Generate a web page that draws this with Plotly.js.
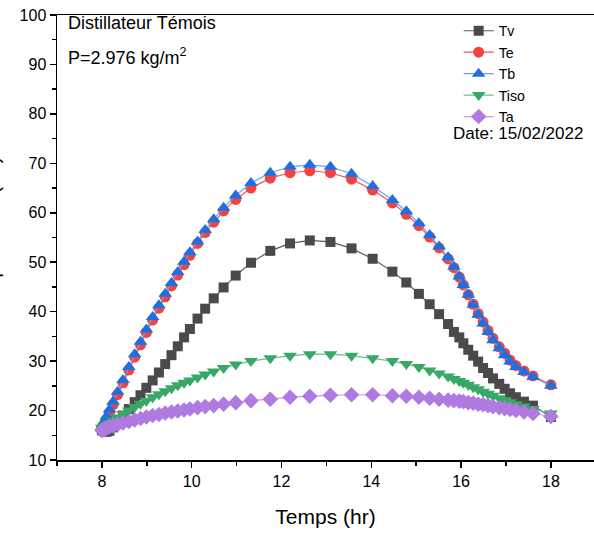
<!DOCTYPE html>
<html>
<head>
<meta charset="utf-8">
<script src="https://cdn.plot.ly/plotly-3.0.1.min.js"></script>
<style>html,body{margin:0;padding:0;background:#fff;}#chart{width:594px;height:534px;}</style>
</head>
<body>
<div id="chart"></div>
<script>
// Time (hr)
const time = [8.00, 8.05, 8.10, 8.17, 8.25, 8.35, 8.47, 8.60, 8.73, 8.86, 8.99, 9.13, 9.27, 9.41, 9.55, 9.69, 9.83, 9.96, 10.13, 10.30, 10.49, 10.71, 10.98, 11.32, 11.75, 12.19, 12.63, 13.09, 13.56, 14.03, 14.47, 14.78, 15.06, 15.30, 15.51, 15.71, 15.84, 15.96, 16.05, 16.16, 16.27, 16.38, 16.49, 16.60, 16.71, 16.85, 16.97, 17.09, 17.22, 17.40, 17.60, 18.00];
const Tv = [16.0, 15.8, 15.7, 15.9, 16.6, 17.6, 19.0, 20.3, 21.7, 23.1, 24.6, 26.1, 27.7, 29.4, 31.2, 33.0, 34.8, 36.5, 38.6, 40.6, 42.7, 44.9, 47.3, 49.9, 52.3, 53.8, 54.4, 54.1, 52.8, 50.7, 48.1, 45.9, 43.6, 41.5, 39.5, 37.5, 35.9, 34.8, 33.6, 32.3, 31.1, 29.9, 28.6, 27.6, 26.5, 25.4, 24.4, 23.5, 22.7, 21.8, 21.0, 18.7];
const Te = [16.5, 17.2, 18.2, 19.6, 21.2, 23.2, 25.6, 28.2, 30.8, 33.3, 35.8, 38.3, 40.7, 43.0, 45.2, 47.4, 49.5, 51.4, 53.8, 56.0, 58.1, 60.4, 62.7, 65.0, 67.0, 68.1, 68.5, 68.1, 66.8, 64.6, 62.0, 59.7, 57.4, 55.1, 52.9, 50.7, 48.9, 47.0, 45.4, 43.4, 41.5, 39.6, 37.9, 36.2, 34.6, 32.9, 31.6, 30.2, 29.1, 28.0, 27.0, 25.2];
const Tb = [16.8, 17.8, 18.8, 20.2, 21.8, 23.8, 26.2, 28.8, 31.4, 33.9, 36.4, 38.9, 41.3, 43.6, 45.8, 48.0, 50.1, 52.0, 54.2, 56.5, 58.7, 61.0, 63.5, 66.0, 68.1, 69.3, 69.7, 69.3, 67.9, 65.4, 62.6, 60.3, 57.9, 55.5, 53.2, 51.0, 49.1, 47.1, 45.4, 43.4, 41.4, 39.4, 37.6, 35.9, 34.2, 32.6, 31.2, 29.9, 28.8, 27.8, 26.8, 25.0];
const Tiso = [16.5, 16.8, 17.1, 17.5, 18.0, 18.6, 19.3, 20.0, 20.7, 21.4, 22.0, 22.7, 23.3, 23.9, 24.5, 25.1, 25.6, 26.1, 26.7, 27.3, 27.9, 28.6, 29.3, 30.0, 30.6, 31.1, 31.4, 31.4, 31.1, 30.6, 30.0, 29.4, 28.8, 28.1, 27.5, 26.9, 26.4, 26.0, 25.6, 25.2, 24.7, 24.3, 23.8, 23.4, 23.0, 22.5, 22.1, 21.7, 21.3, 20.8, 20.3, 19.4];
const Ta = [16.0, 16.2, 16.4, 16.7, 16.9, 17.2, 17.5, 17.8, 18.1, 18.4, 18.7, 19.0, 19.2, 19.5, 19.7, 19.9, 20.1, 20.3, 20.6, 20.8, 21.0, 21.3, 21.6, 22.0, 22.3, 22.7, 22.9, 23.1, 23.2, 23.2, 23.0, 22.9, 22.7, 22.5, 22.3, 22.1, 22.0, 21.9, 21.8, 21.6, 21.5, 21.3, 21.2, 21.0, 20.8, 20.6, 20.4, 20.2, 20.0, 19.7, 19.4, 18.8];

const seriesNames = ['Tv', 'Te', 'Tb', 'Tiso', 'Ta'];
const seriesData = [Tv, Te, Tb, Tiso, Ta];
const markerColors = ['#4a4a4a', '#f04343', '#1f6fe0', '#38a866', '#b07ae0'];
const lineColors = ['#5a5a5a', '#f25555', '#6fa0e8', '#68c090', '#c29be8'];
const symbols = ['square', 'circle', 'triangle-up', 'triangle-down', 'diamond'];
const sizes = [10, 11, 12, 12, 12];

const traces = seriesNames.map((n, i) => ({
  x: time, y: seriesData[i], name: n, type: 'scatter', mode: 'lines+markers',
  line: {color: lineColors[i], width: 1.2},
  marker: {symbol: symbols[i], color: markerColors[i], size: sizes[i], line: {width: 0}},
  cliponaxis: false
}));

const font = 'Arial, "Liberation Sans", sans-serif';
const layout = {
  width: 594, height: 534,
  margin: {l: 57, r: 0, t: 15, b: 74},
  paper_bgcolor: '#fff', plot_bgcolor: '#fff',
  font: {family: font, color: '#000', size: 16},
  showlegend: true,
  legend: {x: 0.748, y: 1.0, xanchor: 'left', yanchor: 'top', bgcolor: 'rgba(0,0,0,0)',
           font: {family: font, size: 14.2, color: '#000'}, tracegroupgap: 0},
  xaxis: {
    range: [7, 18.96], showgrid: false, zeroline: false,
    showline: true, linecolor: '#000', linewidth: 1.5, mirror: true,
    ticks: 'outside', ticklen: 6, tickwidth: 1.5, tickcolor: '#000',
    tick0: 8, dtick: 2, tickfont: {size: 16},
    minor: {ticks: 'outside', ticklen: 4, tickwidth: 1.5, tickcolor: '#000', dtick: 1, tick0: 7},
    title: {text: 'Temps (hr)', font: {size: 21}, standoff: 20}
  },
  yaxis: {
    range: [10, 100], showgrid: false, zeroline: false,
    showline: true, linecolor: '#000', linewidth: 1.5, mirror: true,
    ticks: 'outside', ticklen: 6, tickwidth: 1.5, tickcolor: '#000',
    tick0: 10, dtick: 10, tickfont: {size: 16},
    minor: {ticks: 'outside', ticklen: 4, tickwidth: 1.5, tickcolor: '#000', dtick: 5}
  },
  annotations: [
    {xref: 'paper', yref: 'paper', x: (66 - 57) / 537, y: 1 - (23 - 15) / 445, xanchor: 'left', yanchor: 'middle',
     text: 'Distillateur Témois', showarrow: false, font: {size: 18}},
    {xref: 'paper', yref: 'paper', x: (66 - 57) / 537, y: 1 - (57 - 15) / 445, xanchor: 'left', yanchor: 'middle',
     text: 'P=2.976 kg/m<sup>2</sup>', showarrow: false, font: {size: 18}},
    {xref: 'paper', yref: 'paper', x: (451 - 57) / 537, y: 1 - (133 - 15) / 445, xanchor: 'left', yanchor: 'middle',
     text: 'Date: 15/02/2022', showarrow: false, font: {size: 17}},
    {xref: 'paper', yref: 'paper', x: (-9 - 57) / 537, y: 0.5, xanchor: 'center', yanchor: 'middle',
     text: 'Température (°C)', textangle: -90, showarrow: false, font: {size: 21}}
  ]
};

Plotly.newPlot('chart', traces, layout, {displayModeBar: false, staticPlot: true});
</script>
</body>
</html>
